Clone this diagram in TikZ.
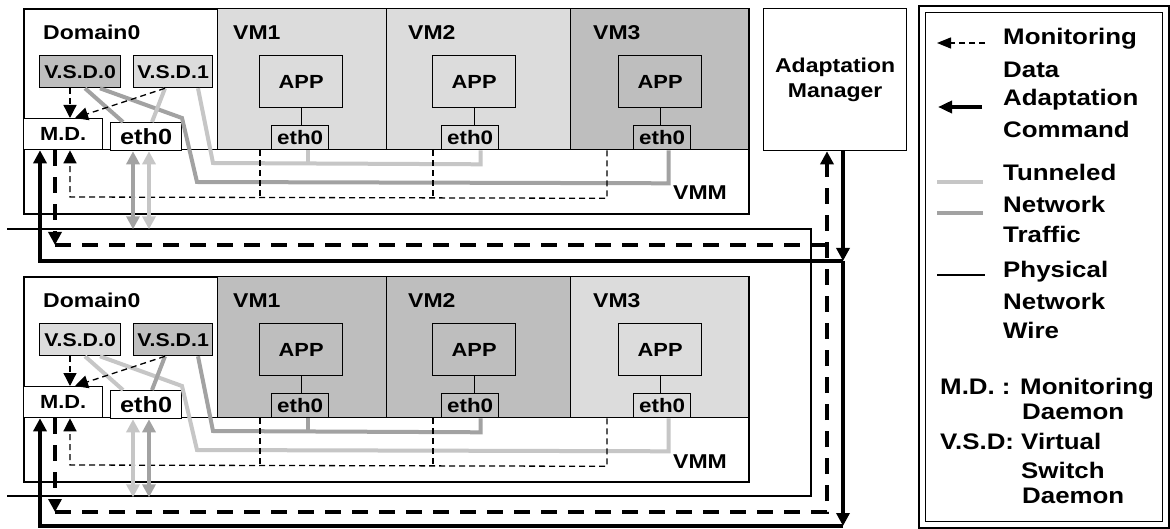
\documentclass[tikz,border=0pt]{standalone}
\usepackage{fontspec}
\setmainfont{Liberation Sans}[FakeStretch=1.15]
\usetikzlibrary{arrows.meta,calc}
\definecolor{flt}{HTML}{DCDCDC}
\definecolor{fdk}{HTML}{BEBEBE}
\definecolor{llt}{HTML}{C6C6C6}
\definecolor{ldk}{HTML}{A2A2A2}
\tikzset{
  tri/.tip={Triangle[length=13pt,width=13pt]},
  box/.style={draw, line width=1.3pt, inner sep=0pt, anchor=north west},
  fs/.style={font=\bfseries\fontsize{#1}{#1}\selectfont},
  lbl/.style={fs=20, anchor=base west, inner sep=0pt},
  legt/.style={fs=22.5, anchor=base west, inner sep=0pt},
  thinl/.style={line width=1.3pt},
  tun/.style={line width=4pt},
  mon/.style={line width=1.3pt, dash pattern=on 6pt off 4pt},
  bigmon/.style={line width=3.5pt, dash pattern=on 16pt off 11pt},
  cmd/.style={line width=3.5pt},
  phys/.style={line width=1.2pt},
  dbl/.style={{Triangle[length=13pt,width=13pt]}-{Triangle[length=13pt,width=13pt]}},
}
\newcommand\drawhost[2]{%
  \node[box, line width=1.6pt, minimum width=725pt, minimum height=205pt] (host) at (23,8) {};
  \node[box, minimum width=725pt, minimum height=64pt] (vmm) at (23,149) {};
  \node[box, minimum width=194pt, minimum height=141pt] (dom) at (23,8) {};
  \node[box, fill=f#2, minimum width=169pt, minimum height=141pt] (vm1) at (217,8) {};
  \node[box, fill=f#2, minimum width=184pt, minimum height=141pt] (vm2) at (386,8) {};
  \node[box, fill=f#1, minimum width=178pt, minimum height=141pt] (vm3) at (570,8) {};
  \node[lbl] (dlab) at (43,40) {Domain0};
  \node[lbl] (v1lab) at (233,40) {VM1};
  \node[lbl] (v2lab) at (408,40) {VM2};
  \node[lbl] (v3lab) at (593,40) {VM3};
  \node[lbl] (vmmlab) at (673,200) {VMM};
  \node[box, fill=f#1, fs=18.5, minimum width=81pt, minimum height=32pt] (vsd0) at (39,55) {V.S.D.0};
  \node[box, fill=f#2, fs=18.5, minimum width=79pt, minimum height=32pt] (vsd1) at (133,55) {V.S.D.1};
  \node[box, fill=white, fs=19, minimum width=79pt, minimum height=31pt] (md) at (23,118) {M.D.};
  \node[box, fill=white, fs=22, minimum width=71pt, minimum height=28pt] (eth) at (110,122) {eth0};
  \node[box, fill=f#2, fs=19, minimum width=83pt, minimum height=52pt] (app1) at (259,55) {APP};
  \node[box, fill=f#2, fs=19.5, minimum width=57pt, minimum height=24pt] (e1) at (271,125) {eth0};
  \node[box, fill=f#2, fs=19, minimum width=83pt, minimum height=52pt] (app2) at (432,55) {APP};
  \node[box, fill=f#2, fs=19.5, minimum width=57pt, minimum height=24pt] (e2) at (441,125) {eth0};
  \node[box, fill=f#1, fs=19, minimum width=83pt, minimum height=52pt] (app3) at (618,55) {APP};
  \node[box, fill=f#1, fs=19.5, minimum width=57pt, minimum height=24pt] (e3) at (633,125) {eth0};
  \draw[thinl] (app1.south) -- (app1.south |- e1.north);
  \draw[thinl] (app2.south) -- (app2.south |- e2.north);
  \draw[thinl] (app3.south) -- (app3.south |- e3.north);
  % tunneled traffic
  \draw[tun, l#1] ($(vsd0.south west)+(46,0)$) -- ($(eth.north west)+(13,0)$);
  \draw[tun, l#1] ($(vsd0.south west)+(61,0)$) -- (182,118) -- (197,182) -- ($(e3.south)+(6.5,33)$) -- ($(e3.south)+(6.5,0)$);
  \draw[tun, l#2] ($(vsd1.south west)+(32,0)$) -- ($(eth.north west)+(42,0)$);
  \draw[tun, l#2] ($(vsd1.south west)+(65,0)$) -- (213,163) -- ($(e2.south)+(10.5,14)$) -- ($(e2.south)+(10.5,0)$);
  \draw[tun, l#2] ($(e1.south)+(7.5,14)$) -- ($(e1.south)+(7.5,0)$);
  % monitoring inside host
  \draw[mon] ($(vm1.south west)+(43,0)$) -- ++(0,48);
  \draw[mon] ($(vm2.south west)+(47,0)$) -- ++(0,48);
  \draw[mon, -{tri}] ($(vm3.south west)+(37,0)$) -- ++(0,48) -- (70,197) -- ($(md.south west)+(47,0)$);
  \draw[mon, -{tri}] ($(vsd0.south west)+(31,0)$) -- ($(md.north west)+(47,0)$);
  \draw[mon, -{tri}] ($(vsd1.south west)+(32,0)$) -- ($(md.north west)+(52,0)$);
  % eth0 to wire
  \draw[tun, l#1, dbl] ($(eth.south west)+(23,0)$) -- ++(0,78);
  \draw[tun, l#2, dbl] ($(eth.south west)+(39,0)$) -- ++(0,78);
}
\begin{document}
\begin{tikzpicture}[x=1pt, y=-1pt]
  \useasboundingbox[fill=white] (0,0) rectangle (1170,529);
  % physical wire
  \coordinate (wtl) at (7,229);
  \coordinate (wtr) at (811,229);
  \coordinate (wbr) at (811,496);
  \coordinate (wbl) at (7,496);
  \draw[phys] (wtl) -- (wtr) -- (wbr) -- (wbl);
  \begin{scope}
    \drawhost{dk}{lt}
  \end{scope}
  \begin{scope}[yshift=-268pt, name prefix=b]
    \drawhost{lt}{dk}
  \end{scope}
  % adaptation manager
  \node[box, fs=20, align=center, minimum width=143pt, minimum height=142pt] (am) at (763,8) {Adaptation\\[5pt]Manager};
  % monitoring data to AM
  \coordinate (mt) at (55,245);
  \coordinate (mb) at (55,512);
  \coordinate (mr) at (827,512);
  \draw[bigmon, -{tri}] ($(md.south west)+(32,0)$) -- (mt);
  \draw[bigmon] (mt) -- (mt -| mr);
  \draw[bigmon, -{tri}] ($(bmd.south west)+(32,0)$) -- (mb);
  \draw[bigmon, -{tri}] (mb) -- (mr) -- (mr |- am.south);
  % adaptation commands
  \coordinate (ct) at (843,261);
  \coordinate (cb) at (843,526);
  \coordinate (mdx) at ($(md.south west)+(17,0)$);
  \coordinate (bmdx) at ($(bmd.south west)+(17,0)$);
  \draw[cmd, -{tri}] (am.south -| ct) -- (ct);
  \draw[cmd, -{tri}] (ct) -- (cb);
  \draw[cmd, -{tri}] (ct) -- (ct -| mdx) -- (mdx);
  \draw[cmd, -{tri}] (cb) -- (cb -| bmdx) -- (bmdx);
  % legend
  \node[draw, line width=1.8pt, inner sep=0pt, anchor=north west, minimum width=250pt, minimum height=522pt] (lego) at (918,5) {};
  \node[draw, line width=1.4pt, inner sep=0pt, anchor=north west, minimum width=237pt, minimum height=509pt] (legi) at (925,12) {};
  \coordinate (l1a) at (985,43);  \coordinate (l1b) at (937,43);
  \coordinate (l2a) at (982,107); \coordinate (l2b) at (938,107);
  \coordinate (l3a) at (937,182); \coordinate (l3b) at (983,182);
  \coordinate (l4a) at (937,213); \coordinate (l4b) at (983,213);
  \coordinate (l5a) at (937,275); \coordinate (l5b) at (985,275);
  \draw[mon, -{Triangle[length=14pt,width=11pt]}] (l1a) -- (l1b);
  \draw[cmd, -{Triangle[length=14pt,width=12pt]}] (l2a) -- (l2b);
  \draw[tun, llt] (l3a) -- (l3b);
  \draw[tun, ldk] (l4a) -- (l4b);
  \draw[phys] (l5a) -- (l5b);
  \node[legt] (t1) at (1003,45) {Monitoring};
  \node[legt] (t2) at (1003,78) {Data};
  \node[legt] (t3) at (1003,106) {Adaptation};
  \node[legt] (t4) at (1003,138) {Command};
  \node[legt] (t5) at (1003,181) {Tunneled};
  \node[legt] (t6) at (1003,213) {Network};
  \node[legt] (t7) at (1003,243) {Traffic};
  \node[legt] (t8) at (1003,278) {Physical};
  \node[legt] (t9) at (1003,309) {Network};
  \node[legt] (t10) at (1003,338) {Wire};
  \node[legt] (t11) at (940,394) {M.D. : Monitoring};
  \node[legt] (t12) at (1022,419) {Daemon};
  \node[legt] (t13) at (940,449) {V.S.D: Virtual};
  \node[legt] (t14) at (1021,478) {Switch};
  \node[legt] (t15) at (1022,503) {Daemon};
\end{tikzpicture}
\end{document}
